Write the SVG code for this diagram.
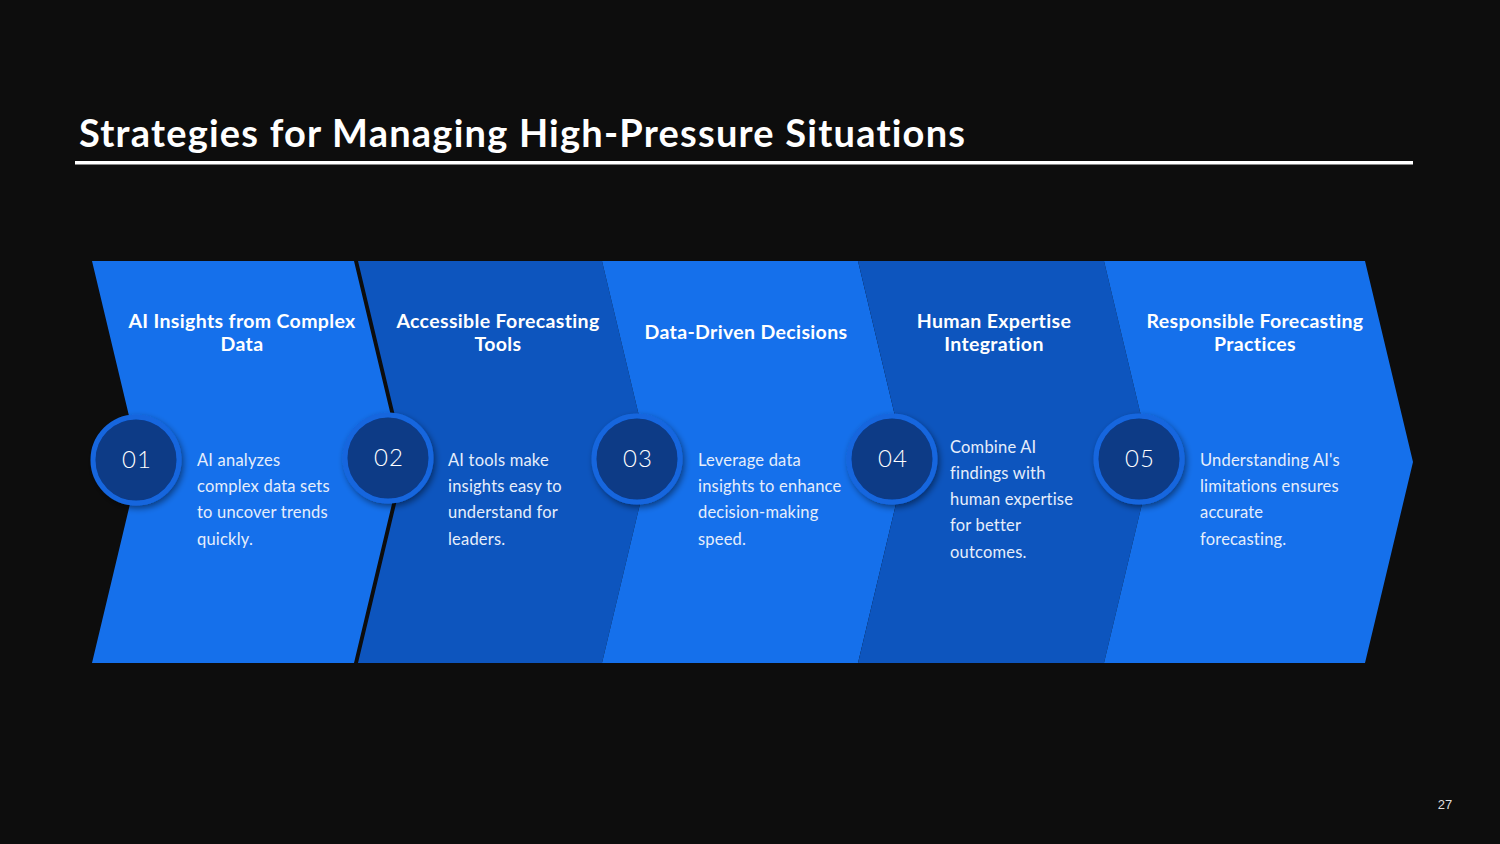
<svg xmlns="http://www.w3.org/2000/svg" width="1500" height="844" viewBox="0 0 1500 844">
<defs>
<style>
text{font-variant-ligatures:none;font-feature-settings:"liga" 0,"dlig" 0}
.bg{fill:#0d0d0d}
.bright{fill:#1570eb}
.dark{fill:#0d55be}
.ring{fill:#0b3a86;stroke:#1566de;stroke-width:5}
.num{font-family:Lato,"Open Sans",sans-serif;font-weight:300;font-size:24px;fill:#ffffff;text-anchor:middle;letter-spacing:1px}
.ttl{font-family:Lato,"Open Sans",sans-serif;font-weight:700;font-size:19.5px;fill:#ffffff;text-anchor:middle;letter-spacing:0.35px}
.body{font-family:Lato,"Open Sans",sans-serif;font-weight:400;font-size:16.5px;fill:#e6eefb;letter-spacing:0.2px}
.head{font-family:Lato,"Open Sans",sans-serif;font-weight:700;font-size:38px;fill:#ffffff}
.pg{font-family:"Liberation Sans",sans-serif;font-size:13px;fill:#dddddd;text-anchor:middle}
</style>
<filter id="sh" x="-30%" y="-30%" width="160%" height="160%">
<feDropShadow dx="2" dy="3" stdDeviation="3" flood-color="#000000" flood-opacity="0.45"/>
</filter>
</defs>
<rect class="bg" x="0" y="0" width="1500" height="844"/>
<g id="header">
<text class="head" x="79" y="147" textLength="886" lengthAdjust="spacing">Strategies for Managing High-Pressure Situations</text>
<rect x="75" y="161" width="1338" height="3.5" fill="#ffffff"/>
</g>
<g id="step1">
<polygon class="bright" points="92,261 354,261 402,462 354,663 92,663 140,462"/>
<text class="ttl" x="242" y="328">AI Insights from Complex</text>
<text class="ttl" x="242" y="351">Data</text>
</g>
<g id="step2">
<polygon class="dark" points="358,261 602,261 650,462 602,663 358,663 406,462"/>
<text class="ttl" x="498" y="328">Accessible Forecasting</text>
<text class="ttl" x="498" y="351">Tools</text>
</g>
<g id="step3">
<polygon class="bright" points="602,261 858,261 906,462 858,663 602,663 650,462"/>
<text class="ttl" x="746" y="339">Data-Driven Decisions</text>
</g>
<g id="step4">
<polygon class="dark" points="858,261 1104,261 1152,462 1104,663 858,663 906,462"/>
<text class="ttl" x="994" y="328">Human Expertise</text>
<text class="ttl" x="994" y="351">Integration</text>
</g>
<g id="step5">
<polygon class="bright" points="1104,261 1365,261 1413,462 1365,663 1104,663 1152,462"/>
<text class="ttl" x="1255" y="328">Responsible Forecasting</text>
<text class="ttl" x="1255" y="351">Practices</text>
</g>
<g id="badge1">
<circle class="ring" cx="136" cy="460" r="43" filter="url(#sh)"/>
<text class="num" x="137" y="468">01</text>
<text class="body"><tspan x="197" y="466">AI analyzes</tspan><tspan x="197" y="492">complex data sets</tspan><tspan x="197" y="518">to uncover trends</tspan><tspan x="197" y="545">quickly.</tspan></text>
</g>
<g id="badge2">
<circle class="ring" cx="388" cy="458" r="43" filter="url(#sh)"/>
<text class="num" x="389" y="466">02</text>
<text class="body"><tspan x="448" y="466">AI tools make</tspan><tspan x="448" y="492">insights easy to</tspan><tspan x="448" y="518">understand for</tspan><tspan x="448" y="545">leaders.</tspan></text>
</g>
<g id="badge3">
<circle class="ring" cx="637" cy="459" r="43" filter="url(#sh)"/>
<text class="num" x="638" y="467">03</text>
<text class="body"><tspan x="698" y="466">Leverage data</tspan><tspan x="698" y="492">insights to enhance</tspan><tspan x="698" y="518">decision-making</tspan><tspan x="698" y="545">speed.</tspan></text>
</g>
<g id="badge4">
<circle class="ring" cx="892" cy="459" r="43" filter="url(#sh)"/>
<text class="num" x="893" y="467">04</text>
<text class="body"><tspan x="950" y="453">Combine AI</tspan><tspan x="950" y="479">findings with</tspan><tspan x="950" y="505">human expertise</tspan><tspan x="950" y="531">for better</tspan><tspan x="950" y="558">outcomes.</tspan></text>
</g>
<g id="badge5">
<circle class="ring" cx="1139" cy="459" r="43" filter="url(#sh)"/>
<text class="num" x="1140" y="467">05</text>
<text class="body"><tspan x="1200" y="466">Understanding AI's</tspan><tspan x="1200" y="492">limitations ensures</tspan><tspan x="1200" y="518">accurate</tspan><tspan x="1200" y="545">forecasting.</tspan></text>
</g>
<g id="connectors"></g>
<text class="pg" x="1445" y="809">27</text>
</svg>
